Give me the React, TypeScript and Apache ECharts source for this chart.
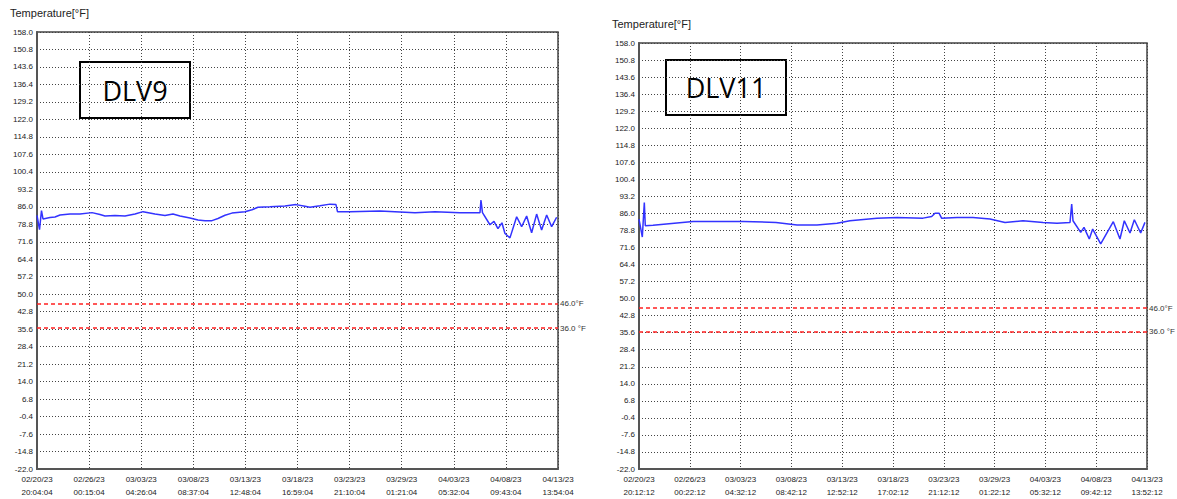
import React, { useEffect, useRef } from "react";
import * as echarts from "echarts";

// DLV9: hours from 02/20/23 20:04:04, temperature °F
const dlv9Hours = [0, 6.0, 10.7, 14.3, 31.0, 42.9, 54.8, 78.6, 102.5, 131.1, 150.1, 162.1, 185.9, 209.7, 233.6, 252.6, 281.2, 305.1, 324.1, 340.8, 364.6, 383.7, 400.4, 417.1, 431.4, 448.1, 464.7, 495.7, 512.4, 526.7, 555.3, 591.1, 617.3, 638.7, 650.6, 674.5, 698.3, 712.6, 716.2, 746.0, 817.5, 865.2, 901.0, 948.6, 1008.2, 1055.9, 1058.2, 1061.8, 1079.6, 1089.2, 1098.7, 1108.2, 1115.4, 1127.3, 1143.3, 1155.2, 1167.1, 1179.0, 1190.9, 1202.8, 1214.8, 1226.7, 1238.6];
const dlv9Temps = [82.5, 76.6, 84.4, 81.0, 81.6, 81.8, 82.6, 83.0, 83.0, 83.6, 82.8, 82.2, 82.4, 82.2, 83.0, 84.0, 83.0, 82.4, 83.0, 82.2, 81.4, 80.6, 80.3, 80.3, 81.2, 82.5, 83.4, 84.0, 84.8, 85.8, 86.0, 86.3, 86.9, 86.2, 85.8, 86.4, 87.1, 86.9, 84.0, 84.0, 84.3, 83.9, 83.5, 84.0, 83.6, 83.6, 88.8, 83.6, 78.6, 80.0, 77.0, 79.4, 75.0, 73.2, 81.9, 77.8, 82.2, 75.3, 83.0, 76.4, 82.6, 77.8, 81.7];

// DLV11: hours from 02/20/23 20:12:12, temperature °F
const dlv11Hours = [0, 8.1, 13.0, 15.4, 34.2, 132.0, 254.2, 334.9, 386.2, 435.1, 484.0, 515.7, 581.7, 630.6, 694.2, 715.4, 723.5, 733.3, 739.9, 777.3, 816.4, 857.9, 894.6, 938.6, 987.5, 1021.7, 1053.5, 1057.6, 1060.8, 1079.6, 1087.7, 1100.6, 1108.9, 1128.5, 1159.3, 1175.6, 1186.2, 1200.1, 1210.7, 1226.2, 1236.7];
const dlv11Temps = [83.6, 76.0, 90.6, 80.8, 81.0, 82.6, 82.6, 82.2, 81.1, 81.1, 81.8, 82.9, 83.9, 84.3, 84.0, 84.7, 86.1, 86.1, 83.9, 84.3, 84.3, 83.6, 82.2, 82.9, 82.2, 81.8, 82.2, 89.9, 82.9, 78.0, 80.1, 75.2, 79.4, 73.1, 82.5, 75.2, 82.9, 77.7, 83.3, 77.7, 82.2];

// axis settings (temperature axis ticks)
const yMin = -22.0;
const yMax = 158.0;
const yStep = 7.2;
const limits = [46.0, 36.0];
const limitLabels = ["46.0°F", "36.0 °F"];

// x-axis: start time and tick step (minutes)
const dlv9Start = Date.UTC(2023, 1, 20, 20, 4, 4);
const dlv9StepMin = 7451;
const dlv11Start = Date.UTC(2023, 1, 20, 20, 12, 12);
const dlv11StepMin = 7450;

const pad = (n: number) => String(n).padStart(2, "0");
const timeFmt = (start: number) => (v: number) => {
  const d = new Date(start + Math.round(v) * 60000);
  return `${pad(d.getUTCMonth() + 1)}/${pad(d.getUTCDate())}/${pad(d.getUTCFullYear() % 100)}\n${pad(d.getUTCHours())}:${pad(d.getUTCMinutes())}:${pad(d.getUTCSeconds())}`;
};

const FONT = "Liberation Sans, Arial, sans-serif";

export default function App() {
  const ref = useRef<HTMLDivElement>(null);
  useEffect(() => {
    if (!ref.current) return;
    const chart = echarts.init(ref.current, null, { renderer: "svg" });
    const shift = -yMin;
    const grids = [
      { left: 37, top: 32, width: 521, height: 437 },
      { left: 639, top: 43, width: 508, height: 429 },
    ];
    const mkX = (i: number, start: number, step: number) => ({
      type: "value",
      gridIndex: i,
      min: 0,
      max: step * 10,
      interval: step,
      axisLine: { show: true, lineStyle: { color: "#555", width: 2 } },
      axisTick: { show: false },
      axisLabel: {
        formatter: timeFmt(start),
        fontSize: 8,
        lineHeight: 13,
        color: "#222",
        fontFamily: FONT,
        margin: 4,
        showMinLabel: true,
        showMaxLabel: true,
      },
      splitLine: { show: true, lineStyle: { color: "#444", type: [1, 2], width: 1 } },
    });
    const mkY = (i: number) => ({
      type: "value",
      gridIndex: i,
      min: 0,
      max: yMax - yMin,
      interval: yStep,
      axisLine: { show: true, lineStyle: { color: "#555", width: 2 } },
      axisTick: { show: false },
      axisLabel: {
        formatter: (v: number) => (v - shift).toFixed(1),
        fontSize: 8,
        color: "#222",
        fontFamily: FONT,
        margin: 4,
        showMinLabel: true,
        showMaxLabel: true,
      },
      splitLine: { show: true, lineStyle: { color: "#444", type: [1, 2], width: 1 } },
    });
    const mkSeries = (i: number, hours: number[], temps: number[]) => ({
      type: "line",
      z: 5,
      xAxisIndex: i,
      yAxisIndex: i,
      showSymbol: false,
      symbol: "none",
      data: hours.map((h, k) => [h * 60, temps[k] + shift]),
      lineStyle: { color: "#3333ff", width: 1.5 },
      itemStyle: { color: "#3333ff" },
      markLine: {
        silent: true,
        symbol: "none",
        z: 6,
        data: limits.map((l, k) => ({
          yAxis: l + shift,
          label: {
            show: true,
            position: "end",
            formatter: limitLabels[k],
            fontSize: 8,
            color: "#333",
            fontFamily: FONT,
            distance: 2,
          },
        })),
        lineStyle: { color: "#ff2020", type: [4, 3], width: 1.5, opacity: 1 },
      },
    });
    const box = (x: number, y: number, w: number, h: number, label: string) => ({
      type: "group",
      z: 100,
      children: [
        { type: "rect", shape: { x, y, width: w, height: h }, style: { fill: "#fff", stroke: "#000", lineWidth: 2 } },
        {
          type: "text",
          x: x + w / 2,
          y: y + h / 2,
          style: { text: label, fontSize: 27, fontFamily: "Open Sans, Lato, sans-serif", fill: "#000", textAlign: "center", textVerticalAlign: "middle" },
        },
      ],
    });
    chart.setOption({
      animation: false,
      backgroundColor: "#fff",
      grid: grids.map((g) => ({ ...g, show: true, borderColor: "#444", borderWidth: 1.5, containLabel: false })),
      xAxis: [mkX(0, dlv9Start, dlv9StepMin), mkX(1, dlv11Start, dlv11StepMin)],
      yAxis: [mkY(0), mkY(1)],
      series: [mkSeries(0, dlv9Hours, dlv9Temps), mkSeries(1, dlv11Hours, dlv11Temps)],
      graphic: [
        { type: "text", x: 10, y: 7, style: { text: "Temperature[°F]", fontSize: 11, fontFamily: FONT, fill: "#222" } },
        { type: "text", x: 612, y: 18, style: { text: "Temperature[°F]", fontSize: 11, fontFamily: FONT, fill: "#222" } },
        box(80, 62, 110, 56, "DLV9"),
        box(666, 60, 120, 55, "DLV11"),
      ],
    });
    return () => chart.dispose();
  }, []);
  return (
    <div
      ref={ref}
      style={{ position: "fixed", left: 0, top: 0, width: 1177, height: 499, background: "#fff" }}
    />
  );
}
